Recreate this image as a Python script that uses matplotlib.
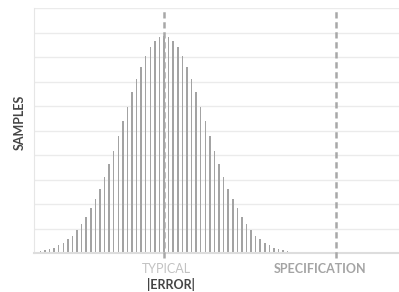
import numpy as np
import matplotlib
matplotlib.use('Agg')
import matplotlib.pyplot as plt

# error bins (offset from typical) and sample counts
offsets = list(range(-28, 31))
samples = [0.06, 0.08, 0.11, 0.17, 0.22, 0.31, 0.42, 0.56, 0.68, 0.93, 1.18, 1.48, 1.82, 2.21, 2.63, 3.11,
           3.64, 4.17, 4.79, 5.38, 5.97, 6.56, 7.10, 7.60, 8.03, 8.39, 8.65, 8.82, 8.87,
           8.82, 8.65, 8.39, 8.03, 7.60, 7.10, 6.56, 5.97, 5.38, 4.79, 4.17, 3.64, 3.11, 2.63,
           2.21, 1.82, 1.48, 1.18, 0.93, 0.68, 0.56, 0.42, 0.31, 0.22, 0.17, 0.11, 0.08, 0.06, 0.04, 0.03]
typical = 0
specification = 37.5
tick_pos = [0.55, 34.1]
tick_labels = ['TYPICAL', 'SPECIFICATION']

plt.rcParams['font.family'] = ['Lato', 'DejaVu Sans']

fig = plt.figure(figsize=(3.99, 2.92), dpi=100)
ax = fig.add_axes([34 / 399, 1 - 253 / 292, (399 - 34) / 399, 245 / 292])

ax.set_xlim(-28.4, 51.3)
ax.set_ylim(0, 10)
ax.set_yticks(range(0, 11))
ax.grid(axis='y', color='#ebebeb', linewidth=1)
ax.set_axisbelow(True)
ax.tick_params(left=False, labelleft=False, bottom=False)

ax.bar(offsets, samples, width=0.33, color='#a3a3a3', zorder=2)

for x in [typical, specification]:
    ax.plot([x, x], [-0.2, 10], ls=(0, (2.5, 1.5)), color='#a8a8a8', lw=1.8, clip_on=False, zorder=3)

ax.set_xticks(tick_pos)
ax.set_xticklabels(tick_labels, fontsize=9)
ax.tick_params(axis='x', pad=4)
lbls = ax.get_xticklabels()
lbls[0].set_color('#c2c2c2')
lbls[1].set_color('#a4a4a4')
lbls[1].set_fontweight('bold')

ax.text(1.5, -0.102, '|ERROR|', transform=ax.get_xaxis_transform(), ha='center', va='top',
        fontsize=9, fontweight='bold', color='#444444')

ax.set_ylabel('SAMPLES', fontsize=9, fontweight='bold', color='#444444')
ax.yaxis.set_label_coords(-0.022, 0.535)

for s in ['top', 'right']:
    ax.spines[s].set_visible(False)
ax.spines['left'].set_color('#e6e6e6')
ax.spines['bottom'].set_color('#dddddd')
ax.spines['bottom'].set_linewidth(1.5)

fig.savefig('out.png', dpi=100)
